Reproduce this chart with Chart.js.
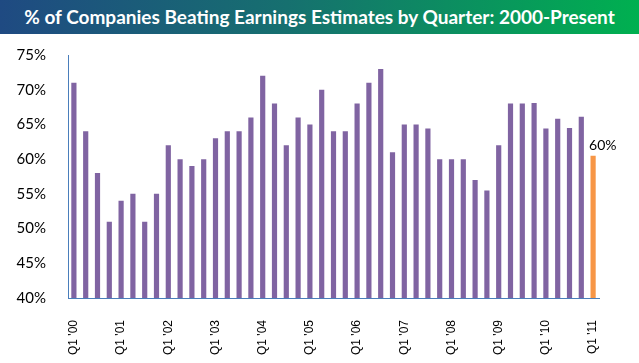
<!DOCTYPE html>
<html>
<head>
<meta charset="utf-8">
<script src="https://cdn.jsdelivr.net/npm/chart.js@4.4.0/dist/chart.umd.min.js"></script>
<style>
  body { margin: 0; background: #fff; }
  #wrap { position: relative; width: 639px; height: 363px; }
  #titulo {
    position: absolute; left: 0; top: 0; width: 639px; height: 34px;
    background: linear-gradient(to right, #1f4a82, #16706f 45%, #00b050);
    color: #fff; font: bold 19px Lato, sans-serif; text-align: center; line-height: 34px;
  }
  #grafico { position: absolute; left: 0; top: 0; }
</style>
</head>
<body>
<div id="wrap">
  <canvas id="grafico" width="639" height="363"></canvas>
  <div id="titulo">% of Companies Beating Earnings Estimates by Quarter: 2000-Present</div>
</div>
<script>
// Trimestres Q1 2000 - Q1 2011
const trimestres = [];
for (let a = 0; a <= 11; a++) {
    for (let q = 1; q <= 4; q++) {
        if (a === 11 && q > 1) break;
        trimestres.push('Q' + q + " '" + String(a).padStart(2, '0'));
    }
}

// % de empresas que superan estimaciones
const porcentajes = [
    71, 64, 58, 51, 54, 55, 51, 55,
    62, 60, 59, 60, 63, 64, 64, 66,
    72, 68, 62, 66, 65, 70, 64, 64,
    68, 71, 73, 61, 65, 65, 64.4, 60,
    60, 60, 57, 55.5, 62, 68, 68, 68.1,
    64.4, 65.8, 64.5, 66.1, 60.5
];

// texto que aparece sobre la ultima barra
const etiquetaFinal = '60%';

const colorBarra = '#8064a2';
const colorUltima = '#f79646';
const colores = porcentajes.map((v, i) => i === porcentajes.length - 1 ? colorUltima : colorBarra);

// etiqueta sobre la ultima barra
const etiquetaUltima = {
    id: 'etiquetaUltima',
    afterDatasetsDraw(chart) {
        const meta = chart.getDatasetMeta(0);
        const bar = meta.data[meta.data.length - 1];
        const ctx = chart.ctx;
        ctx.save();
        ctx.font = '14px Lato, sans-serif';
        ctx.fillStyle = '#000';
        ctx.textAlign = 'left';
        ctx.textBaseline = 'alphabetic';
        ctx.fillText(etiquetaFinal, bar.x - 4, bar.y - 6);
        ctx.restore();
    }
};

const ctx = document.getElementById('grafico').getContext('2d');
const grafico = new Chart(ctx, {
    type: 'bar',
    data: {
        labels: trimestres,
        datasets: [{
            data: porcentajes,
            backgroundColor: colores,
            barPercentage: 0.44,
            categoryPercentage: 1
        }]
    },
    options: {
        responsive: false,
        animation: false,
        layout: { padding: { top: 55, right: 40, left: 0, bottom: 0 } },
        plugins: {
            legend: { display: false },
            tooltip: { enabled: false }
        },
        scales: {
            x: {
                grid: { display: false },
                border: { display: true, color: '#4a7ebb', width: 1 },
                afterFit: (s) => { s.height = 65; },
                ticks: {
                    autoSkip: false,
                    maxRotation: 90,
                    minRotation: 90,
                    padding: 14,
                    color: '#000',
                    font: { family: 'Liberation Sans, Arial', size: 12 },
                    callback: function (val, i) {
                        return i % 4 === 0 ? trimestres[i] : '';
                    }
                }
            },
            y: {
                min: 40,
                max: 75,
                grid: { display: false },
                border: { display: true, color: '#4a7ebb', width: 1 },
                afterFit: (s) => { s.width = 68; },
                ticks: {
                    stepSize: 5,
                    padding: 14,
                    color: '#000',
                    font: { family: 'Lato', size: 15 },
                    callback: (v) => v + '%'
                }
            }
        }
    },
    plugins: [etiquetaUltima]
});
</script>
</body>
</html>
